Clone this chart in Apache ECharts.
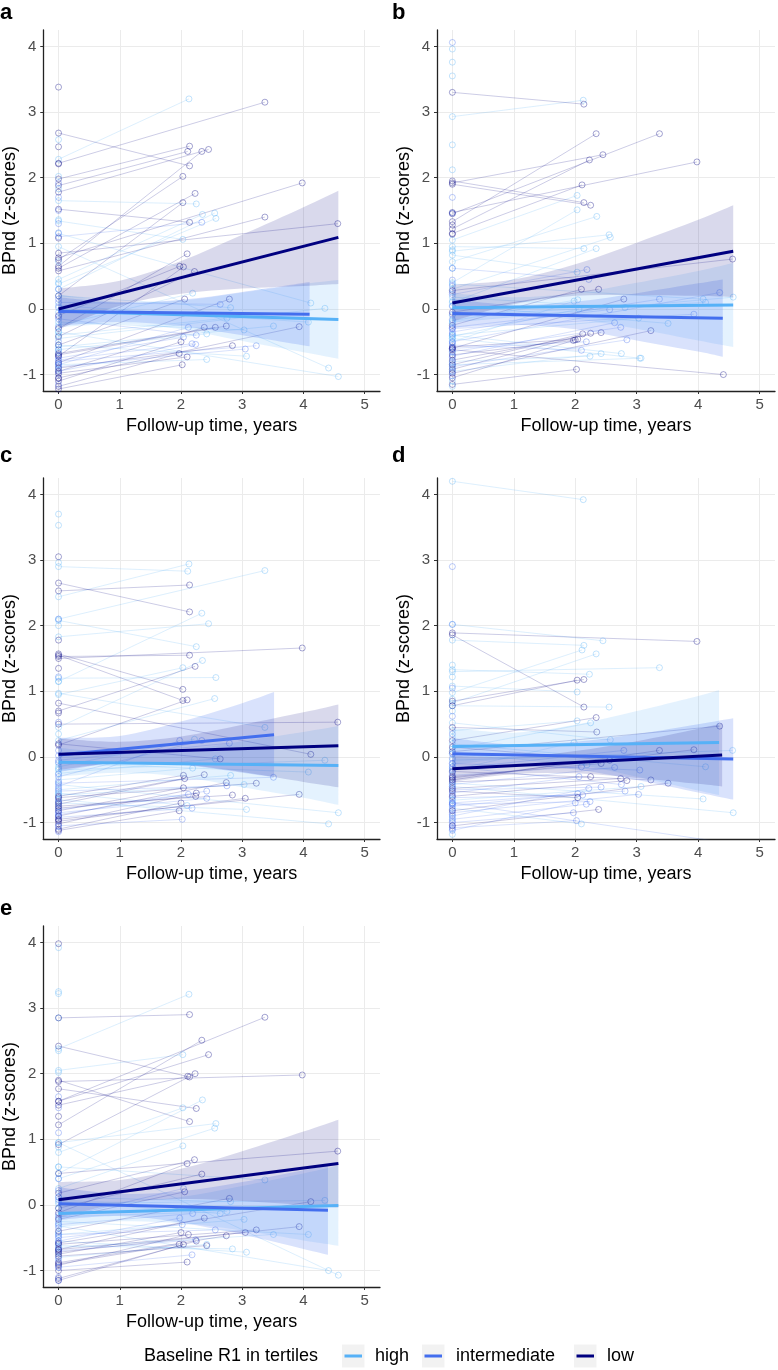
<!DOCTYPE html>
<html>
<head>
<meta charset="utf-8">
<title>BPnd over follow-up time</title>
<script src="https://cdn.jsdelivr.net/npm/echarts@6.0.0/dist/echarts.min.js"></script>
<style>
html, body { margin: 0; padding: 0; background: #fff; }
#container { width: 778px; height: 1370px; }
</style>
</head>
<body>
<div id="container"></div>
<script>
var tertiles = ['high', 'intermediate', 'low'];
var tertileColors = ['#56B1F7', '#436EEE', '#000080'];
var bandColors = ['rgba(86,177,247,0.16)', 'rgba(67,110,238,0.2)', 'rgba(0,0,128,0.15)'];
var xTicks = [0, 1, 2, 3, 4, 5];
var yTicks = [-1, 0, 1, 2, 3, 4];
var panelLabels = ['a', 'b', 'c', 'd', 'e'];

// follow-up visit times (years), same subjects in every panel
var fuYears = [2.13, 3.37, 2.14, 2.11, 2.34, 2.45, 2.14, 2.03, 3.98, 2.23,
	2.03, 2.25, 2.35, 2.55, 2.57, 2.14, 2.34, 3.37, 4.56, 2.03,
	2.10, 1.98, 2.04, 2.22, 2.19, 2.06, 2.79, 2.64, 2.81, 4.12,
	4.35, 2.12, 2.38, 2.74, 3.51, 3.93, 4.08, 3.03, 2.25, 2.42,
	2.00, 2.18, 2.84, 3.23, 1.97, 2.10, 3.05, 4.41, 4.57, 2.02,
	2.24, 2.42, 3.07, 2.56, 2.75, 2.04];

// tertile codes: 0 high, 1 intermediate, 2 low
var aBase = [2.28, 2.22, 1.98, 1.88, 0.65, 1.78, 2.68, 0.75, 0.78, 0.62,
	0.20, 1.65, 0.45, 0.30, 0.38, 1.52, 1.10, 0.58, 0.85, 1.34,
	-0.30, -0.10, -0.72, -0.42, -0.25, -0.55, -0.82, 0.10, 0.20, 1.15,
	-0.45, -0.85, -0.95, -0.70, -0.58, -1.05, 0.05, -0.20, -0.15, -0.62,
	-1.10, -0.78, -0.90, -0.80, -1.18, -0.98, -0.88, 0.95, -0.35, -1.22,
	-0.95, -0.85, -0.55, -0.68, -0.40, -0.75];
var aFollow = [3.20, 3.15, 2.48, 2.40, 2.40, 2.43, 2.18, 2.02, 1.92, 1.76,
	1.62, 1.60, 1.44, 1.46, 1.38, 1.32, 1.32, 1.40, 1.30, 1.06,
	0.84, 0.65, 0.64, 0.57, 0.24, 0.15, 0.15, 0.07, 0.02, 0.09,
	0.01, -0.28, -0.28, -0.26, -0.26, -0.27, -0.20, -0.32, -0.40, -0.38,
	-0.50, -0.53, -0.56, -0.56, -0.68, -0.73, -0.61, -0.90, -1.03, -0.85,
	-0.54, -0.77, -0.72, -0.28, -0.14, -0.43];
var aGroup = [0, 2, 2, 2, 2, 2, 2, 2, 2, 2,
	2, 0, 0, 0, 0, 2, 1, 2, 2, 0,
	2, 2, 2, 2, 0, 2, 2, 1, 0, 0,
	0, 1, 2, 2, 0, 2, 0, 0, 1, 0,
	2, 1, 2, 1, 2, 2, 1, 0, 0, 2,
	1, 0, 0, 2, 0, 1];
var aOnly = [3.38, 2.47, 2.58, 2.21, 2.02, 1.92, 1.83, 1.70, 1.50, 1.36,
	1.30, 1.16, 1.08, 0.72, 0.40, 0.30, 0.15, 0.02, -0.05, -0.12,
	-0.28, -0.35, -0.50, -0.62, -0.66, -0.72, -0.84, -0.92, -1.00, -1.06, -1.15];
var aOnlyGroup = [2, 2, 0, 2, 0, 1, 0, 1, 1, 0, 1, 1, 2, 0, 0, 1, 1, 1, 0, 1, 1, 0, 1, 1, 0, 1, 1, 0, 1, 2, 1];

var bBase = [2.93, 1.45, 3.30, 1.15, 1.33, 1.92, 1.95, 1.05, 1.47, 1.22,
	0.40, 1.90, 0.72, 0.88, 0.30, 0.95, 0.10, -0.35, 0.28, 0.82,
	-0.25, -0.50, -0.18, 0.62, 0.22, -0.42, -0.60, -0.72, 0.18, -0.10,
	-0.50, -0.85, -0.05, -0.65, 0.05, -0.30, 0.38, -0.40, -0.92, -0.78,
	-1.05, -0.60, -0.88, -0.98, -0.70, -0.55, -0.45, -0.62, -0.20, -1.15,
	-0.80, -0.95, -0.85, -0.28, -0.40, -0.58];
var bFollow = [3.18, 2.67, 3.12, 1.89, 2.67, 2.35, 1.62, 1.73, 2.24, 2.27,
	1.51, 1.58, 1.41, 1.13, 1.09, 0.92, 0.92, 0.15, 0.76, 0.56,
	0.30, 0.12, 0.14, 0.45, 0.60, 0.00, 0.15, -0.21, 0.02, 0.10,
	0.25, -0.38, 0.30, -0.28, -0.22, -0.08, 0.15, -0.14, -0.37, -0.36,
	-0.47, -0.50, -0.47, -0.33, -0.48, -0.63, -0.75, -1.00, 0.18, -0.92,
	-0.72, -0.68, -0.75, -0.01, -0.68, -0.46];
var bGroup = [0, 2, 2, 2, 2, 2, 2, 0, 2, 2,
	0, 2, 0, 0, 0, 0, 0, 1, 2, 0,
	2, 0, 0, 1, 1, 0, 2, 1, 0, 0,
	1, 2, 2, 1, 0, 1, 0, 0, 2, 2,
	2, 1, 1, 2, 2, 1, 0, 2, 0, 2,
	0, 0, 0, 1, 0, 2];
var bOnly = [4.06, 3.96, 3.76, 3.55, 2.50, 2.12, 1.70, 1.46, 1.28, 1.14,
	0.90, 0.62, 0.44, 0.35, 0.25, 0.12, 0.04, -0.08, -0.16, -0.22,
	-0.30, -0.38, -0.45, -0.52, -0.60, -0.66, -0.74, -0.82, -0.90, -0.96, -1.02, -1.10, -1.18];
var bOnlyGroup = [1, 0, 0, 0, 0, 0, 1, 1, 2, 2, 0, 0, 1, 1, 1, 0, 1, 1, 1, 0, 1, 1, 0, 1, 1, 0, 1, 1, 0, 1, 1, 0, 0];

var cBase = [2.44, 2.10, 2.53, 2.90, 1.15, 1.83, 2.65, 0.95, 1.50, 0.70,
	1.57, 2.08, 0.45, 0.25, 1.20, 1.53, -0.30, 0.97, 0.50, 1.55,
	0.18, -0.45, -0.60, -0.15, -0.35, -0.72, -0.05, 0.20, -0.50, 0.82,
	-0.20, -0.80, -0.68, -0.90, -0.40, -0.95, -0.10, -0.58, -1.02, -0.85,
	-1.10, -0.92, -0.75, -0.62, -1.12, -0.55, -0.98, -0.65, -0.42, -1.05,
	-0.78, -0.88, -0.70, -0.25, -0.52, -0.82];
var cFollow = [2.94, 2.84, 2.62, 2.83, 2.19, 2.03, 2.21, 1.36, 1.66, 1.38,
	1.03, 1.68, 1.47, 0.89, 1.21, 1.55, 0.25, 0.45, 0.53, 0.86,
	0.87, 0.25, -0.28, 0.27, -0.17, -0.33, 0.21, -0.03, -0.28, 0.04,
	-0.05, -0.57, -0.27, -0.39, -0.31, -0.57, -0.23, -0.42, -0.55, -0.63,
	-0.70, -0.78, -0.58, -0.40, -0.82, -0.74, -0.63, -1.02, -0.85, -0.95,
	-0.60, -0.52, -0.80, -0.03, -0.44, -0.47];
var cGroup = [0, 0, 2, 0, 0, 0, 2, 0, 2, 2,
	2, 0, 0, 0, 0, 2, 1, 0, 2, 2,
	2, 1, 2, 0, 0, 2, 1, 2, 0, 2,
	0, 1, 2, 2, 1, 2, 0, 0, 2, 1,
	2, 1, 2, 2, 2, 0, 2, 0, 0, 1,
	2, 1, 0, 0, 1, 2];
var cOnly = [3.70, 3.53, 3.05, 2.96, 2.10, 2.00, 1.78, 1.35, 1.22, 1.15,
	0.67, 0.53, 0.35, 0.10, 0.02, -0.08, -0.18, -0.26, -0.38, -0.48,
	-0.56, -0.64, -0.70, -0.76, -0.84, -0.90, -0.96, -1.06, -1.14];
var cOnlyGroup = [0, 0, 2, 0, 1, 0, 2, 2, 1, 0, 2, 1, 0, 1, 1, 1, 0, 1, 1, 1, 0, 1, 1, 0, 1, 1, 2, 1, 1];

var dBase = [4.20, 1.30, 1.78, 0.98, 0.82, 2.02, 1.86, 1.08, 1.89, 1.33,
	0.78, 0.12, 0.45, 0.78, 0.52, 0.85, 0.25, -0.35, -0.05, 0.40,
	-0.28, -0.20, -0.75, -0.90, 0.05, -0.55, -0.18, -0.42, -0.70, 0.20,
	0.08, -0.62, -1.05, -0.48, -0.82, -0.32, -0.40, -0.85, -0.38, -0.50,
	-1.12, -0.95, -0.60, -0.22, -1.00, -0.78, -0.10, -0.70, -0.45, -1.08,
	-0.72, -0.30, -0.66, 0.15, -0.15, -0.52];
var dFollow = [3.92, 1.36, 1.70, 1.63, 1.57, 1.77, 0.76, 0.99, 1.76, 1.26,
	1.17, 0.52, 0.38, 0.76, 0.26, 1.18, 0.60, 0.10, 0.10, 0.55,
	-0.15, 0.22, -0.56, -0.48, -0.12, -0.30, 0.10, -0.16, -0.52, -0.15,
	0.47, -0.58, -0.80, -0.33, -0.40, 0.11, -0.64, -0.57, -0.30, -0.46,
	-0.70, -0.72, -0.36, -0.35, -0.85, -1.02, -0.20, -1.30, -0.85, -0.97,
	-0.68, -0.10, -0.45, -0.05, -0.42, -0.62];
var dGroup = [0, 0, 0, 0, 0, 0, 2, 0, 2, 0,
	2, 0, 2, 0, 0, 2, 2, 2, 0, 0,
	1, 0, 1, 1, 0, 1, 1, 1, 1, 0,
	2, 1, 2, 2, 2, 2, 0, 1, 2, 1,
	1, 1, 2, 2, 1, 0, 1, 1, 0, 1,
	1, 2, 0, 2, 1, 2];
var dOnly = [2.90, 2.02, 1.40, 1.22, 1.05, 0.88, 0.70, 0.62, 0.35, 0.30,
	0.05, -0.02, -0.10, -0.15, -0.24, -0.35, -0.45, -0.58, -0.65, -0.72,
	-0.80, -0.88, -0.93, -0.98, -1.04, -1.10, -1.18];
var dOnlyGroup = [1, 1, 0, 0, 1, 0, 0, 1, 1, 0, 1, 1, 1, 0, 1, 1, 1, 1, 0, 1, 1, 1, 0, 1, 1, 1, 0];

var eBase = [2.38, 1.58, 2.85, 1.52, 1.22, 1.58, 2.42, 2.05, 1.88, 0.92,
	0.80, 1.77, 0.48, 0.40, 0.95, 1.90, -0.05, 0.58, 0.48, 0.25,
	-0.12, -0.55, -0.20, 0.18, -0.30, -0.22, -0.40, 0.05, 0.12, -0.58,
	0.02, -0.92, -0.68, -0.88, -0.65, -0.72, -0.25, -0.45, -1.12, -0.80,
	-0.75, -0.95, -0.62, -0.60, -0.90, -1.00, -0.68, -0.32, 0.95, -0.50,
	-0.70, -0.78, -0.55, -0.45, -0.18, -1.15];
var eFollow = [3.21, 2.86, 2.90, 1.96, 2.51, 2.29, 1.95, 2.29, 1.98, 2.00,
	1.48, 1.47, 1.60, 1.17, 1.24, 1.27, 0.47, 0.38, 0.82, 0.90,
	0.63, -0.20, 0.25, 0.69, -0.13, 0.20, 0.10, -0.13, 0.05, 0.05,
	0.07, -0.45, -0.20, -0.47, -0.45, -0.33, -0.45, -0.22, -0.55, -0.60,
	-0.42, -0.76, -0.67, -0.38, -0.60, -0.87, -0.42, -1.00, -1.07, -0.30,
	-0.53, -0.62, -0.72, -0.38, -0.10, -0.60];
var eGroup = [0, 2, 2, 2, 2, 2, 2, 0, 2, 2,
	0, 2, 0, 0, 0, 2, 2, 0, 2, 0,
	2, 1, 1, 2, 1, 2, 2, 0, 0, 2,
	0, 2, 2, 2, 0, 2, 0, 0, 2, 0,
	2, 1, 0, 2, 2, 2, 2, 0, 0, 1,
	1, 2, 0, 1, 0, 2];
var eOnly = [3.98, 3.92, 3.25, 3.22, 2.85, 2.35, 2.02, 1.65, 1.48, 1.35,
	1.10, 0.88, 0.58, 0.40, 0.22, 0.12, 0.08, -0.05, -0.15, -0.28,
	-0.35, -0.42, -0.48, -0.58, -0.65, -0.72, -0.82, -0.86, -0.95, -1.10, -1.15];
var eOnlyGroup = [2, 0, 0, 0, 0, 0, 0, 1, 1, 2, 1, 0, 0, 1, 1, 1, 1, 0, 1, 1, 1, 0, 1, 1, 1, 0, 1, 1, 1, 1, 1];

// regression fits per tertile, rows of [years, fitted, lower CI, upper CI]
var aHighFit = [[0, -0.03, -0.28, 0.22], [1, -0.06, -0.23, 0.11], [2, -0.09, -0.31, 0.13], [3, -0.12, -0.49, 0.25], [4, -0.14, -0.66, 0.38], [4.57, -0.16, -0.76, 0.44]];
var aMidFit = [[0, -0.04, -0.26, 0.18], [1, -0.05, -0.20, 0.10], [2, -0.06, -0.26, 0.14], [3, -0.07, -0.40, 0.26], [4.1, -0.08, -0.57, 0.41]];
var aLowFit = [[0, 0.00, -0.31, 0.31], [1, 0.24, 0.05, 0.43], [2, 0.48, 0.23, 0.73], [3, 0.72, 0.31, 1.13], [4, 0.95, 0.35, 1.55], [4.57, 1.09, 0.38, 1.80]];

var bHighFit = [[0, 0.02, -0.20, 0.24], [1, 0.03, -0.12, 0.18], [2, 0.04, -0.16, 0.24], [3, 0.05, -0.30, 0.40], [4, 0.05, -0.48, 0.58], [4.57, 0.06, -0.58, 0.70]];
var bMidFit = [[0, -0.07, -0.29, 0.15], [1, -0.09, -0.24, 0.06], [2, -0.10, -0.31, 0.11], [3, -0.12, -0.48, 0.24], [4, -0.13, -0.65, 0.39], [4.4, -0.14, -0.73, 0.45]];
var bLowFit = [[0, 0.09, -0.19, 0.37], [1, 0.26, 0.07, 0.45], [2, 0.44, 0.20, 0.68], [3, 0.61, 0.21, 1.01], [4, 0.78, 0.20, 1.36], [4.57, 0.88, 0.18, 1.58]];

var cHighFit = [[0, -0.08, -0.30, 0.14], [1, -0.09, -0.24, 0.06], [2, -0.10, -0.30, 0.10], [3, -0.11, -0.46, 0.24], [4, -0.12, -0.62, 0.38], [4.57, -0.13, -0.73, 0.47]];
var cMidFit = [[0, 0.03, -0.23, 0.29], [1, 0.12, -0.08, 0.32], [2, 0.21, -0.12, 0.54], [3, 0.29, -0.24, 0.82], [3.52, 0.34, -0.31, 0.99]];
var cLowFit = [[0, 0.04, -0.20, 0.28], [1, 0.07, -0.09, 0.23], [2, 0.10, -0.11, 0.31], [3, 0.13, -0.23, 0.49], [4, 0.15, -0.38, 0.68], [4.57, 0.17, -0.46, 0.80]];

var dHighFit = [[0, 0.16, -0.12, 0.44], [1, 0.17, -0.03, 0.37], [2, 0.19, -0.11, 0.49], [3, 0.20, -0.30, 0.70], [4, 0.21, -0.51, 0.93], [4.34, 0.22, -0.58, 1.02]];
var dMidFit = [[0, 0.05, -0.19, 0.29], [1, 0.03, -0.13, 0.19], [2, 0.02, -0.19, 0.23], [3, 0.00, -0.35, 0.35], [4, -0.02, -0.54, 0.50], [4.57, -0.03, -0.65, 0.59]];
var dLowFit = [[0, -0.18, -0.38, 0.02], [1, -0.13, -0.26, 0.00], [2, -0.08, -0.25, 0.09], [3, -0.04, -0.32, 0.24], [4, 0.01, -0.41, 0.43], [4.39, 0.03, -0.45, 0.51]];

var eHighFit = [[0, -0.13, -0.35, 0.09], [1, -0.10, -0.25, 0.05], [2, -0.08, -0.28, 0.12], [3, -0.05, -0.39, 0.29], [4, -0.03, -0.54, 0.48], [4.57, -0.01, -0.62, 0.60]];
var eMidFit = [[0, 0.02, -0.23, 0.27], [1, 0.00, -0.17, 0.17], [2, -0.03, -0.27, 0.21], [3, -0.05, -0.45, 0.35], [4, -0.07, -0.67, 0.53], [4.4, -0.08, -0.76, 0.60]];
var eLowFit = [[0, 0.08, -0.19, 0.35], [1, 0.20, 0.02, 0.38], [2, 0.32, 0.09, 0.55], [3, 0.44, 0.06, 0.82], [4, 0.56, 0.00, 1.12], [4.57, 0.63, -0.04, 1.30]];

var panels = [
	{ base: aBase, follow: aFollow, group: aGroup, only: aOnly, onlyGroup: aOnlyGroup, fits: [aHighFit, aMidFit, aLowFit] },
	{ base: bBase, follow: bFollow, group: bGroup, only: bOnly, onlyGroup: bOnlyGroup, fits: [bHighFit, bMidFit, bLowFit] },
	{ base: cBase, follow: cFollow, group: cGroup, only: cOnly, onlyGroup: cOnlyGroup, fits: [cHighFit, cMidFit, cLowFit] },
	{ base: dBase, follow: dFollow, group: dGroup, only: dOnly, onlyGroup: dOnlyGroup, fits: [dHighFit, dMidFit, dLowFit] },
	{ base: eBase, follow: eFollow, group: eGroup, only: eOnly, onlyGroup: eOnlyGroup, fits: [eHighFit, eMidFit, eLowFit] }
];

var fontFamily = '"Liberation Sans", Arial, Helvetica, sans-serif';
var gridPos = [[42, 30], [437, 30], [42, 478], [437, 478], [42, 926]];
var labelPos = [[0, 13], [392, 13], [0, 456], [392, 456], [0, 909]];

var grid = [], xAxis = [], yAxis = [], series = [], graphic = [];

// smooth curve through pixel points (catmull-rom as cubic beziers)
function curvePath(pts, start) {
	var d = start ? 'M' + pts[0][0] + ',' + pts[0][1] : 'L' + pts[0][0] + ',' + pts[0][1];
	for (var i = 0; i < pts.length - 1; i++) {
		var p0 = pts[i - 1] || pts[i], p1 = pts[i], p2 = pts[i + 1], p3 = pts[i + 2] || pts[i + 1];
		var c1x = p1[0] + (p2[0] - p0[0]) / 6, c1y = p1[1] + (p2[1] - p0[1]) / 6;
		var c2x = p2[0] - (p3[0] - p1[0]) / 6, c2y = p2[1] - (p3[1] - p1[1]) / 6;
		d += 'C' + c1x + ',' + c1y + ',' + c2x + ',' + c2y + ',' + p2[0] + ',' + p2[1];
	}
	return d;
}

function bandSeries(k, fit, color) {
	return {
		type: 'custom', xAxisIndex: k, yAxisIndex: k, silent: true, z: 3,
		data: [[fit[0][0], fit[0][1]]],
		renderItem: function (params, api) {
			var up = [], lo = [];
			for (var i = 0; i < fit.length; i++) {
				up.push(api.coord([fit[i][0], fit[i][3]]));
				lo.unshift(api.coord([fit[i][0], fit[i][2]]));
			}
			return { type: 'path', shape: { pathData: curvePath(up, true) + curvePath(lo, false) + 'Z' }, style: { fill: color } };
		}
	};
}

panels.forEach(function (p, k) {
	grid.push({ left: gridPos[k][0], top: gridPos[k][1], width: 338, height: 361 });
	xAxis.push({
		type: 'value', gridIndex: k, min: -0.25, max: 5.25,
		name: 'Follow-up time, years', nameLocation: 'middle', nameGap: 26,
		nameTextStyle: { fontSize: 18, color: '#000', fontFamily: fontFamily },
		axisLine: { show: true, onZero: false, lineStyle: { color: '#222', width: 1.3 } },
		axisTick: { show: true, length: 3, customValues: xTicks, lineStyle: { color: '#333' } },
		axisLabel: { customValues: xTicks, fontSize: 15, color: '#4d4d4d', margin: 6, fontFamily: fontFamily },
		splitLine: { show: true, lineStyle: { color: '#ebebeb', width: 1 } }
	});
	yAxis.push({
		type: 'value', gridIndex: k, min: -1.25, max: 4.25,
		name: 'BPnd (z-scores)', nameLocation: 'middle', nameGap: 20,
		nameTextStyle: { fontSize: 18, color: '#000', fontFamily: fontFamily },
		axisLine: { show: true, onZero: false, lineStyle: { color: '#222', width: 1.3 } },
		axisTick: { show: true, length: 3, customValues: yTicks, lineStyle: { color: '#333' } },
		axisLabel: { customValues: yTicks, fontSize: 15, color: '#4d4d4d', margin: 7, fontFamily: fontFamily },
		splitLine: { show: true, lineStyle: { color: '#ebebeb', width: 1 } }
	});

	for (var g = 0; g < 3; g++) {
		var segs = [], pts = [];
		for (var i = 0; i < fuYears.length; i++) {
			if (p.group[i] !== g) continue;
			segs.push({ coords: [[0, p.base[i]], [fuYears[i], p.follow[i]]] });
			pts.push([0, p.base[i]]);
			pts.push([fuYears[i], p.follow[i]]);
		}
		for (var j = 0; j < p.only.length; j++) {
			if (p.onlyGroup[j] === g) pts.push([0, p.only[j]]);
		}
		series.push({
			name: tertiles[g], type: 'lines', coordinateSystem: 'cartesian2d',
			xAxisIndex: k, yAxisIndex: k, silent: true, z: 1, clip: true,
			data: segs,
			lineStyle: { color: tertileColors[g], width: 1, opacity: 0.2, curveness: 0 }
		});
		series.push({
			name: tertiles[g], type: 'scatter', xAxisIndex: k, yAxisIndex: k, silent: true, z: 2,
			data: pts, symbol: 'circle', symbolSize: 6,
			itemStyle: { color: 'rgba(255,255,255,0)', borderColor: tertileColors[g], borderWidth: 0.8, opacity: 0.45 }
		});
	}
	p.fits.forEach(function (fit, g) {
		series.push(bandSeries(k, fit, bandColors[g]));
	});
	p.fits.forEach(function (fit, g) {
		series.push({
			name: tertiles[g], type: 'line', xAxisIndex: k, yAxisIndex: k, silent: true, z: 4,
			data: [[fit[0][0], fit[0][1]], [fit[fit.length - 1][0], fit[fit.length - 1][1]]],
			showSymbol: false, symbol: 'none',
			lineStyle: { color: tertileColors[g], width: 3 }
		});
	});

	graphic.push({
		type: 'text', x: labelPos[k][0], y: labelPos[k][1],
		style: { text: panelLabels[k], fill: '#000', font: 'bold 22px ' + fontFamily, align: 'left', verticalAlign: 'middle' }
	});
});

// legend strip at the bottom
var legendY = 1356;
graphic.push({
	type: 'text', x: 144, y: legendY,
	style: { text: 'Baseline R1 in tertiles', fill: '#000', font: '18px ' + fontFamily, align: 'left', verticalAlign: 'middle' }
});
var keyX = [342, 422, 574];
var keyTextX = [375, 456, 607];
tertiles.forEach(function (t, g) {
	graphic.push({ type: 'rect', shape: { x: keyX[g], y: legendY - 11.5, width: 22.5, height: 23 }, style: { fill: '#f2f2f2' } });
	graphic.push({
		type: 'line', shape: { x1: keyX[g] + 2.5, y1: legendY, x2: keyX[g] + 20, y2: legendY },
		style: { stroke: tertileColors[g], lineWidth: 3 }
	});
	graphic.push({
		type: 'text', x: keyTextX[g], y: legendY,
		style: { text: t, fill: '#000', font: '18px ' + fontFamily, align: 'left', verticalAlign: 'middle' }
	});
});

var myChart = echarts.init(document.getElementById('container'), null, { renderer: 'canvas' });
myChart.setOption({
	animation: false,
	backgroundColor: '#fff',
	textStyle: { fontFamily: fontFamily },
	grid: grid,
	xAxis: xAxis,
	yAxis: yAxis,
	series: series,
	graphic: graphic
});
</script>
</body>
</html>
